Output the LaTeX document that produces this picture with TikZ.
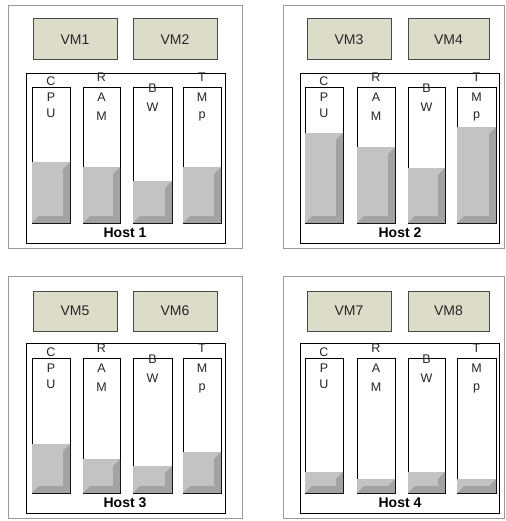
\documentclass[tikz,border=0pt]{standalone}
\usepackage{fontspec}
\setmainfont{Liberation Sans}
\definecolor{outergray}{HTML}{9A9A9A}
\definecolor{vmfill}{HTML}{DCDDC9}
\definecolor{vmline}{HTML}{4A4A4A}
\definecolor{barface}{HTML}{C3C3C3}
\definecolor{bardark}{HTML}{A2A2A2}
\definecolor{txt}{HTML}{262626}
\tikzset{
  outerbox/.style={draw=outergray, line width=0.9pt},
  vmbox/.style={draw=vmline, fill=vmfill, line width=1pt},
  hostbox/.style={draw=black, line width=0.9pt},
  barline/.style={draw=black, line width=0.9pt},
  lt/.style={anchor=base, inner sep=0pt, text=txt, font=\fontsize{12.5}{12.5}\selectfont},
  vmtxt/.style={inner sep=0pt, text=txt, font=\fontsize{14}{14}\selectfont},
  hosttxt/.style={anchor=base, inner sep=0pt, text=black, font=\bfseries\fontsize{14}{14}\selectfont},
}
% #1 name, #2 x1, #3 x2, #4 top, #5 bottom, #6 fill top
\newcommand\resbar[6]{%
  \draw[barline] (#2,#4) rectangle (#3,#5);
  \coordinate (#1) at ({(#2+#3)/2},#4);
  \fill[barface] (#2,#6) rectangle (#3,#5);
  \fill[bardark] (#3,#6) -- (#3,#5) -- (#3-7,#5-7) -- (#3-7,#6+7) -- cycle;
  \fill[bardark] (#2,#5) -- (#3,#5) -- (#3-7,#5-7) -- (#2+7,#5-7) -- cycle;
}
% letters: #1 prefix, #2 x centre, #3 bar top
\newcommand\lcpu[3]{%
  \node[lt] (#1c) at (#2,#3-1.5) {C};
  \node[lt] (#1p) at (#2,#3+14.5) {P};
  \node[lt] (#1u) at (#2,#3+30.5) {U};}
\newcommand\lram[3]{%
  \node[lt] (#1r) at (#2,#3-5.5) {R};
  \node[lt] (#1a) at (#2,#3+14.5) {A};
  \node[lt] (#1m) at (#2,#3+33.5) {M};}
\newcommand\lbw[3]{%
  \node[lt] (#1b) at (#2,#3+5.5) {B};
  \node[lt] (#1w) at (#2,#3+24.5) {W};}
\newcommand\ltmp[3]{%
  \node[lt] (#1t) at (#2,#3-5.5) {T};
  \node[lt] (#1m) at (#2,#3+14.5) {M};
  \node[lt] (#1p) at (#2,#3+32) {p};}
\begin{document}
\begin{tikzpicture}[x=1pt,y=-1pt]
\useasboundingbox (0,0) rectangle (505,521);
\fill[white] (0,0) rectangle (505,521);

% ---------- Quadrant 1 ----------
\draw[outerbox] (8,5) rectangle (242,248);
\draw[vmbox] (33,19) rectangle (117,60); \node[vmtxt] (vm1) at (75,39.5) {VM1};
\draw[vmbox] (133,19) rectangle (217,60); \node[vmtxt] (vm2) at (175,39.5) {VM2};
\draw[hostbox] (26,73) rectangle (225,243);
\resbar{b11}{32}{70}{87}{223}{162}
\resbar{b12}{83}{120}{87}{223}{167}
\resbar{b13}{133}{172}{87}{223}{181}
\resbar{b14}{183}{221}{87}{223}{167}
\lcpu{q1a}{51}{87}
\lram{q1b}{101.5}{87}
\lbw{q1c}{152.5}{87}
\ltmp{q1d}{202}{87}
\node[hosttxt] (h1) at (125,237.5) {Host 1};

% ---------- Quadrant 2 ----------
\draw[outerbox] (283,5) rectangle (504,248);
\draw[vmbox] (307,19) rectangle (391,60); \node[vmtxt] (vm3) at (349,39.5) {VM3};
\draw[vmbox] (408,19) rectangle (489,60); \node[vmtxt] (vm4) at (448.5,39.5) {VM4};
\draw[hostbox] (300,73) rectangle (499,243);
\resbar{b21}{305}{343}{87}{223}{133}
\resbar{b22}{357}{395}{87}{223}{147}
\resbar{b23}{408}{445}{87}{223}{168}
\resbar{b24}{457}{496}{87}{223}{127}
\lcpu{q2a}{324}{87}
\lram{q2b}{376}{87}
\lbw{q2c}{426.5}{87}
\ltmp{q2d}{476.5}{87}
\node[hosttxt] (h2) at (400,237.5) {Host 2};

% ---------- Quadrant 3 ----------
\draw[outerbox] (8,276) rectangle (242,518);
\draw[vmbox] (33,291) rectangle (117,331); \node[vmtxt] (vm5) at (75,311) {VM5};
\draw[vmbox] (133,291) rectangle (217,331); \node[vmtxt] (vm6) at (175,311) {VM6};
\draw[hostbox] (26,343) rectangle (225,513);
\resbar{b31}{32}{70}{358}{493}{444}
\resbar{b32}{83}{120}{358}{493}{459}
\resbar{b33}{133}{172}{358}{493}{466}
\resbar{b34}{183}{221}{358}{493}{452}
\lcpu{q3a}{51}{358}
\lram{q3b}{101.5}{358}
\lbw{q3c}{152.5}{358}
\ltmp{q3d}{202}{358}
\node[hosttxt] (h3) at (125,507) {Host 3};

% ---------- Quadrant 4 ----------
\draw[outerbox] (283,276) rectangle (504,518);
\draw[vmbox] (307,291) rectangle (391,331); \node[vmtxt] (vm7) at (349,311) {VM7};
\draw[vmbox] (408,291) rectangle (489,331); \node[vmtxt] (vm8) at (448.5,311) {VM8};
\draw[hostbox] (300,343) rectangle (499,513);
\resbar{b41}{305}{343}{358}{493}{472}
\resbar{b42}{357}{395}{358}{493}{479}
\resbar{b43}{408}{445}{358}{493}{472}
\resbar{b44}{457}{496}{358}{493}{479}
\lcpu{q4a}{324}{358}
\lram{q4b}{376}{358}
\lbw{q4c}{426.5}{358}
\ltmp{q4d}{476.5}{358}
\node[hosttxt] (h4) at (400,507) {Host 4};
\end{tikzpicture}
\end{document}
